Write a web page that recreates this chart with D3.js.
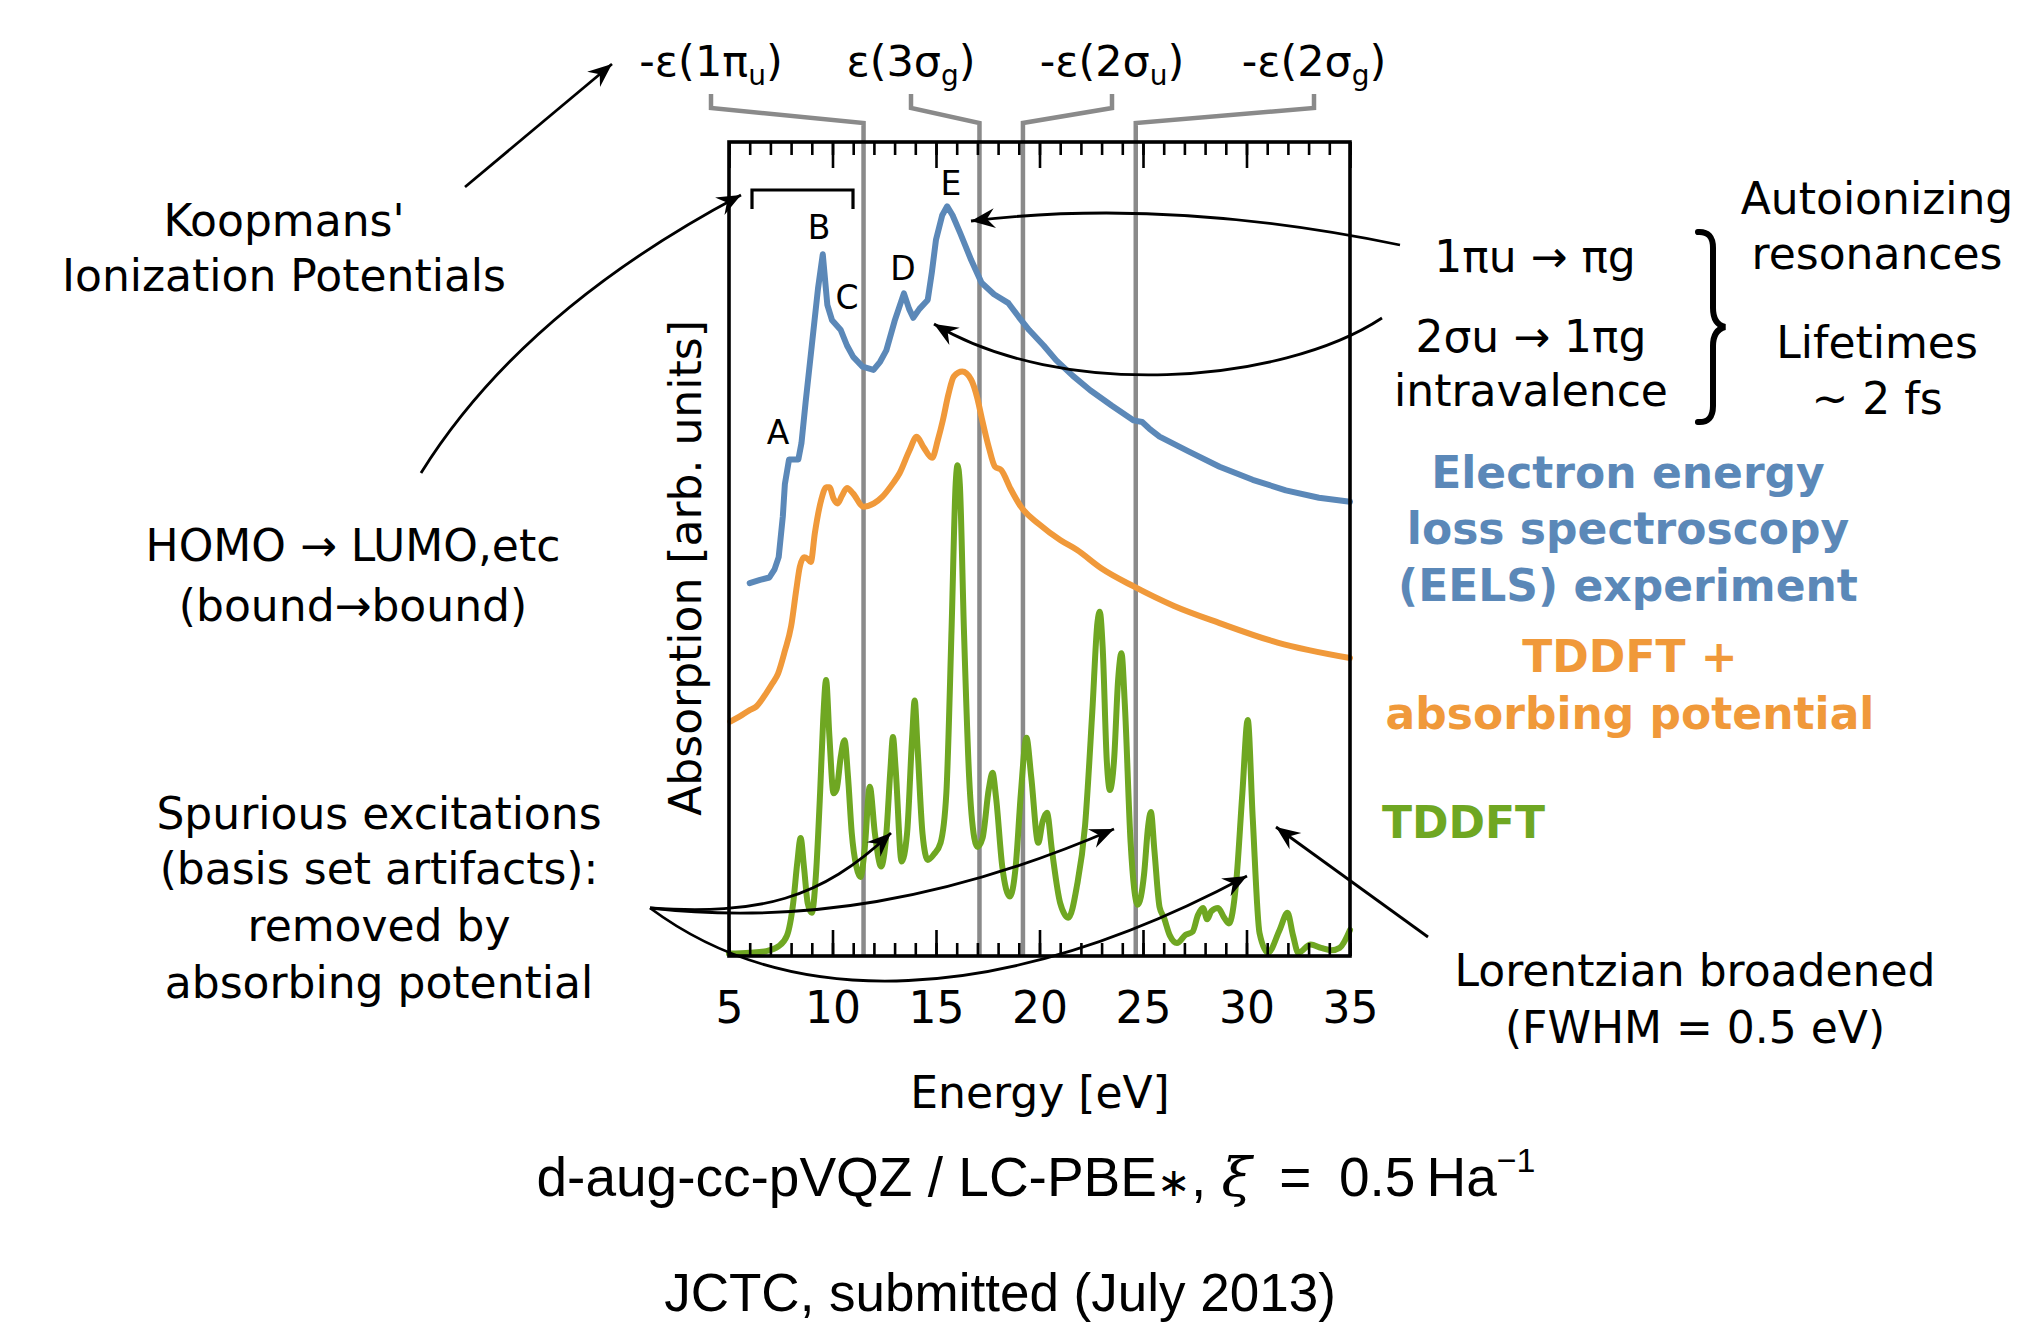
<!DOCTYPE html>
<html>
<head>
<meta charset="utf-8">
<script src="https://cdn.jsdelivr.net/npm/d3@7"></script>
<style>
  body { margin: 0; background: #fff; }
  svg { display: block; }
  text { font-family: "DejaVu Sans", sans-serif; fill: #000; }
</style>
</head>
<body>
<svg id="chart"></svg>
<script>
// ---- data (energy in eV, absorption in arb. units 0..100) ----
const eelsEnergy = [6.0, 6.5, 6.95, 7.2, 7.4, 7.6, 7.7, 7.9, 8.35, 8.5, 8.7, 9.0, 9.3, 9.53, 9.75, 9.98, 10.4, 10.7, 11.0, 11.45, 11.98, 12.3, 12.6, 13.0, 13.45, 13.7, 13.9, 14.2, 14.6, 14.8, 15.0, 15.3, 15.54, 15.8, 16.17, 16.7, 17.2, 17.8, 18.5, 19.0, 19.5, 20.2, 20.8, 21.6, 22.45, 23.5, 24.55, 24.96, 25.3, 25.8, 27.2, 28.7, 30.3, 31.9, 33.5, 35.0];
const eelsValue  = [45.8, 46.2, 46.5, 47.5, 49, 54, 58, 61, 61, 63, 68, 75, 82, 86.2, 80, 78.1, 76.9, 75, 73.6, 72.4, 72, 73, 74.4, 78, 81.4, 79.5, 78.4, 79.5, 80.6, 84, 88, 91, 92.1, 91, 88.8, 85.5, 82.7, 81.3, 80.2, 78.5, 76.9, 75, 73.2, 71.3, 69.5, 67.6, 65.8, 65.6, 64.8, 63.8, 62, 60.1, 58.5, 57.2, 56.3, 55.8];

const absorbEnergy = [5.06, 5.5, 6.0, 6.3, 6.8, 7.1, 7.37, 7.7, 8.0, 8.25, 8.42, 8.63, 8.8, 8.95, 9.15, 9.45, 9.7, 9.85, 10.05, 10.25, 10.45, 10.7, 11.0, 11.5, 12.0, 12.4, 12.9, 13.24, 13.7, 14.07, 14.4, 14.81, 15.1, 15.33, 15.6, 15.86, 16.27, 16.7, 17.0, 17.2, 17.55, 17.85, 18.15, 18.6, 19.1, 20.0, 21.0, 21.8, 23.0, 24.55, 26.5, 28.7, 31.5, 35.0];
const absorbValue  = [28.8, 29.4, 30.2, 30.6, 32.3, 33.5, 34.7, 37.5, 40.5, 45, 47.8, 49.0, 48.8, 48.4, 52, 56, 57.6, 57.6, 56.2, 55.6, 56.5, 57.5, 56.8, 55.2, 55.6, 56.4, 58, 59.3, 62, 63.8, 62.5, 61.2, 63.5, 65.8, 69, 71.2, 71.8, 70.8, 68.5, 66.2, 62.5, 60.1, 59.7, 57.4, 55.2, 53, 51.1, 49.9, 47.6, 45.4, 43, 40.9, 38.5, 36.6];

const tddftEnergy = [5.0, 6.0, 6.8, 7.4, 7.8, 8.1, 8.3, 8.46, 8.62, 8.8, 9.0, 9.2, 9.4, 9.55, 9.69, 9.85, 10.05, 10.2, 10.4, 10.58, 10.75, 10.93, 11.15, 11.35, 11.55, 11.8, 12.05, 12.35, 12.6, 12.8, 12.92, 13.05, 13.34, 13.6, 13.85, 13.97, 14.1, 14.35, 14.6, 14.9, 15.22, 15.5, 15.75, 15.95, 16.04, 16.15, 16.35, 16.6, 16.85, 17.0, 17.25, 17.55, 17.73, 17.9, 18.2, 18.57, 18.85, 19.1, 19.37, 19.6, 19.94, 20.15, 20.36, 20.6, 21.0, 21.4, 21.8, 22.2, 22.55, 22.8, 22.91, 23.05, 23.25, 23.4, 23.6, 23.8, 23.96, 24.12, 24.4, 24.75, 25.05, 25.25, 25.38, 25.55, 25.8, 26.0, 26.3, 26.64, 27.06, 27.4, 27.65, 27.9, 28.1, 28.3, 28.63, 28.9, 29.15, 29.5, 29.8, 30.06, 30.3, 30.63, 31.04, 31.6, 31.98, 32.25, 32.5, 33.1, 33.6, 34.1, 34.5, 35.0];
const tddftValue  = [0.3, 0.4, 0.6, 1.2, 2.5, 6.5, 11.5, 14.5, 11.0, 6.5, 5.3, 10, 20, 29, 33.9, 27, 20, 20.5, 24.5, 26.5, 22, 15.1, 11, 9.7, 13, 20.8, 15, 11.0, 15, 23, 26.9, 23, 11.6, 15, 27, 31.4, 26, 15, 11.8, 12.5, 13.9, 20, 40, 58, 60.3, 58, 40, 22, 14.5, 13.4, 14.5, 20.5, 22.5, 19.5, 11, 7.3, 11, 20, 26.8, 22, 13.9, 16.5, 17.6, 13, 6.5, 4.7, 8.5, 16, 30, 41, 42.3, 38, 24, 20.4, 24, 34, 37.2, 31, 14, 6.3, 10, 16, 17.7, 13, 6, 4.8, 2.5, 1.6, 2.6, 3, 5, 5.9, 4.5, 5.5, 5.9, 4.8, 4.0, 9, 20, 29.0, 17, 2.8, 0.4, 3.2, 5.3, 2.5, 0.4, 1.4, 1.0, 0.7, 1.0, 3.2];

// orbital energies marked by the grey lines, and their labels
const orbitalEnergy = [11.5, 17.1, 19.2, 24.65];
const orbitalName = ['-ε(1π', 'ε(3σ', '-ε(2σ', '-ε(2σ'];
const orbitalSub  = ['u', 'g', 'u', 'g'];

const energyTicks = [5, 10, 15, 20, 25, 30, 35];
const peakNames = ['A', 'B', 'C', 'D', 'E'];

const blue = '#5b88b8', orange = '#f0993a', green = '#6fa722', grey = '#8a8a8a';

const W = 2026, H = 1322;
const svg = d3.select('#chart').attr('width', W).attr('height', H);

const x = d3.scaleLinear().domain([5, 35]).range([729, 1350]);
const y = d3.scaleLinear().domain([0, 100]).range([956, 142]);

// arrow head
svg.append('defs').append('marker')
  .attr('id', 'arr')
  .attr('viewBox', '-26 -12 28 24')
  .attr('markerUnits', 'userSpaceOnUse')
  .attr('markerWidth', 28).attr('markerHeight', 24)
  .attr('refX', 0).attr('refY', 0)
  .attr('orient', 'auto')
  .append('path')
  .attr('d', 'M0,0 L-24,-10 L-16,0 L-24,10 Z')
  .attr('fill', '#000');

// grey orbital lines with their label brackets
const labelX = [711, 911, 1112, 1314];
svg.append('g')
  .selectAll('path')
  .data(orbitalEnergy)
  .join('path')
  .attr('d', (e, i) => `M${labelX[i]},94 L${labelX[i]},108 L${x(e)},123 L${x(e)},${y(0)}`)
  .attr('fill', 'none')
  .attr('stroke', grey)
  .attr('stroke-width', 4.5);

const topLabels = svg.append('g')
  .selectAll('text')
  .data(orbitalName)
  .join('text')
  .attr('x', (d, i) => labelX[i])
  .attr('y', 76)
  .attr('text-anchor', 'middle')
  .attr('font-size', 43);
topLabels.append('tspan').text(d => d);
topLabels.append('tspan').attr('font-size', 28).attr('dy', 9).text((d, i) => orbitalSub[i]);
topLabels.append('tspan').attr('dy', -9).text(')');

// spectra
const line = d3.line().x(d => x(d[0])).y(d => y(d[1]));
const series = [
  {E: eelsEnergy, V: eelsValue, color: blue, curve: d3.curveLinear},
  {E: absorbEnergy, V: absorbValue, color: orange, curve: d3.curveMonotoneX},
  {E: tddftEnergy, V: tddftValue, color: green, curve: d3.curveMonotoneX},
];
svg.append('g')
  .selectAll('path')
  .data(series)
  .join('path')
  .attr('d', s => line.curve(s.curve)(d3.zip(s.E, s.V)))
  .attr('fill', 'none')
  .attr('stroke', s => s.color)
  .attr('stroke-width', 6)
  .attr('stroke-linejoin', 'round')
  .attr('stroke-linecap', 'round');

// frame and inward ticks
const styleAxis = g => {
  g.select('.domain').remove();
  g.selectAll('line').attr('stroke', '#000').attr('stroke-width', 2.6);
  g.selectAll('text').attr('font-size', 44).attr('fill', '#000');
};
const minor = d3.range(5, 36);
svg.append('g').attr('transform', `translate(0,${y(0)})`)
  .call(d3.axisBottom(x).tickValues(minor).tickSize(-13).tickFormat(''))
  .call(styleAxis);
svg.append('g').attr('transform', `translate(0,${y(0)})`)
  .call(d3.axisBottom(x).tickValues(energyTicks).tickSize(-26).tickPadding(36).tickFormat(d3.format('d')))
  .call(styleAxis);
svg.append('g').attr('transform', `translate(0,${y(100)})`)
  .call(d3.axisTop(x).tickValues(minor).tickSize(-13).tickFormat(''))
  .call(styleAxis);
svg.append('g').attr('transform', `translate(0,${y(100)})`)
  .call(d3.axisTop(x).tickValues(energyTicks).tickSize(-26).tickFormat(''))
  .call(styleAxis);
svg.append('rect')
  .attr('x', x(5)).attr('y', y(100))
  .attr('width', x(35) - x(5)).attr('height', y(0) - y(100))
  .attr('fill', 'none').attr('stroke', '#000').attr('stroke-width', 3.6);

// axis titles
svg.append('text').attr('x', 1040).attr('y', 1108).attr('text-anchor', 'middle')
  .attr('font-size', 44).text('Energy [eV]');
svg.append('text').attr('transform', 'translate(701,568) rotate(-90)').attr('text-anchor', 'middle')
  .attr('font-size', 44).text('Absorption [arb. units]');

// Koopmans bracket and peak letters
svg.append('path').attr('d', 'M752,209 L752,190 L853,190 L853,209')
  .attr('fill', 'none').attr('stroke', '#000').attr('stroke-width', 3.2);
const peakPos = [[778, 432], [819, 227], [847, 297], [903, 268], [951, 183]];
svg.append('g').selectAll('text').data(peakNames).join('text')
  .attr('x', (d, i) => peakPos[i][0]).attr('y', (d, i) => peakPos[i][1] + 12)
  .attr('text-anchor', 'middle').attr('font-size', 33).text(d => d);

// annotation arrows
const arrows = [
  'M465,187 L612,64',
  'M421,473 Q522,311 741,195',
  'M1400,245 Q1168,197 971,221',
  'M1382,318 C1280,385 1060,400 934,324',
  'M650,908 C760,915 820,900 891,833',
  'M650,908 C800,925 950,900 1114,829',
  'M650,908 C790,1012 1000,1008 1247,876',
  'M1428,937 L1276,827',
];
svg.append('g').selectAll('path').data(arrows).join('path')
  .attr('d', d => d)
  .attr('fill', 'none').attr('stroke', '#000').attr('stroke-width', 2.8)
  .attr('marker-end', 'url(#arr)');

// curly brace
svg.append('path')
  .attr('d', 'M1698,232 Q1713,231 1713,248 L1713,308 Q1713,324 1725,327 Q1713,330 1713,346 L1713,406 Q1713,423 1698,422')
  .attr('fill', 'none').attr('stroke', '#000').attr('stroke-width', 6).attr('stroke-linecap', 'round');

// text annotations: [text, x, y, anchor, colour, bold]
const notes = [
  ["Koopmans'", 284, 236],
  ['Ionization Potentials', 284, 291],
  ['HOMO \u2192 LUMO,etc', 353, 561],
  ['(bound\u2192bound)', 353, 621],
  ['Spurious excitations', 379, 829],
  ['(basis set artifacts):', 379, 884],
  ['removed by', 379, 941],
  ['absorbing potential', 379, 998],
  ['1\u03c0u \u2192 \u03c0g', 1535, 272],
  ['2\u03c3u \u2192 1\u03c0g', 1531, 352],
  ['intravalence', 1531, 406],
  ['Autoionizing', 1877, 214],
  ['resonances', 1877, 269],
  ['Lifetimes', 1877, 358],
  ['~ 2 fs', 1877, 414],
  ['Electron energy', 1628, 488, 'middle', blue, true],
  ['loss spectroscopy', 1628, 544, 'middle', blue, true],
  ['(EELS) experiment', 1628, 601, 'middle', blue, true],
  ['TDDFT +', 1630, 672, 'middle', orange, true],
  ['absorbing potential', 1630, 729, 'middle', orange, true],
  ['TDDFT', 1382, 838, 'start', green, true],
  ['Lorentzian broadened', 1695, 986],
  ['(FWHM = 0.5 eV)', 1695, 1043],
];
svg.append('g').selectAll('text').data(notes).join('text')
  .attr('x', d => d[1]).attr('y', d => d[2])
  .attr('text-anchor', d => d[3] || 'middle')
  .attr('font-size', 44)
  .attr('font-weight', d => d[5] ? 'bold' : 'normal')
  .style('fill', d => d[4] || '#000')
  .text(d => d[0]);

// footer lines (Helvetica-like)
const f1 = svg.append('text').attr('x', 1036).attr('y', 1196).attr('text-anchor', 'middle')
  .attr('font-size', 55).style('font-family', '"Liberation Sans", Arial, sans-serif');
f1.append('tspan').text('d-aug-cc-pVQZ / LC-PBE');
f1.append('tspan').attr('font-size', 40).text('\u2217');
f1.append('tspan').text(', ');
f1.append('tspan').style('font-family', '"DejaVu Serif", serif').style('font-style', 'italic').text('\u03be');
f1.append('tspan').text('\u2002=\u20020.5\u2009Ha');
f1.append('tspan').attr('font-size', 34).attr('dy', -24).text('\u22121');

svg.append('text').attr('x', 1000).attr('y', 1311).attr('text-anchor', 'middle')
  .attr('font-size', 53).style('font-family', '"Liberation Sans", Arial, sans-serif')
  .text('JCTC, submitted (July 2013)');
</script>
</body>
</html>
